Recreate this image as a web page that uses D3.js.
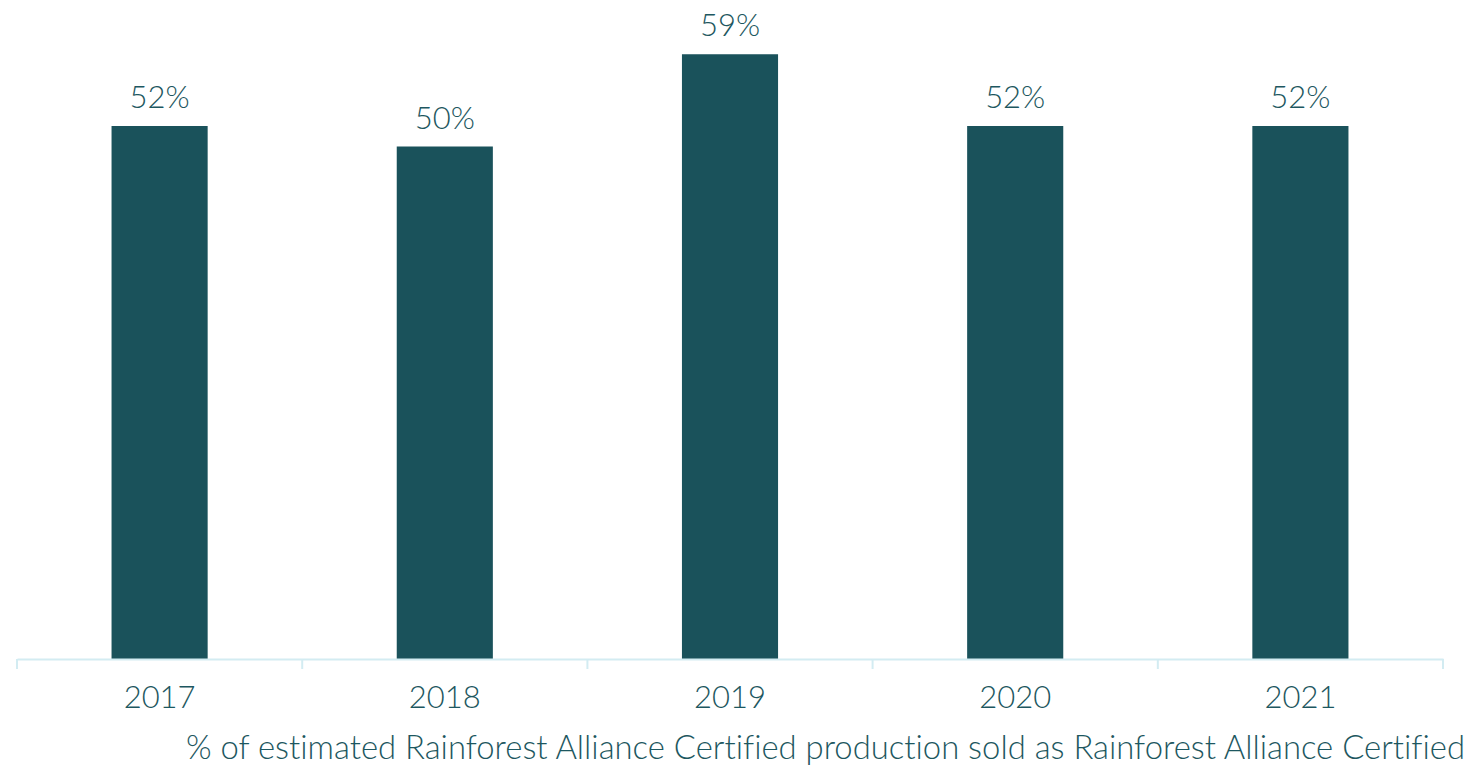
<!DOCTYPE html>
<html>
<head>
<meta charset="utf-8">
<script src="https://cdn.jsdelivr.net/npm/d3@7"></script>
<style>
  html, body { margin: 0; padding: 0; background: #ffffff; }
  svg { display: block; }
  text { font-family: Lato, "Open Sans", sans-serif; font-weight: 300; fill: #1d5760; font-variant-ligatures: none; }
</style>
</head>
<body>
<svg id="chart" width="1475" height="766"></svg>
<script>
const years = ["2017", "2018", "2019", "2020", "2021"];
const shareSold = [52, 50, 59, 52, 52];
const caption = "% of estimated Rainforest Alliance Certified production sold as Rainforest Alliance Certified";

(function () {
  const plotLeft = 17, plotRight = 1443, baseline = 659, plotTop = 44;
  const barColor = "#1a525b";
  const axisColor = "#d3ecf2";

  const svg = d3.select("#chart");

  const x = d3.scaleBand()
    .domain(years)
    .range([plotLeft, plotRight])
    .paddingInner(0.663)
    .paddingOuter(0.3315);

  const y = d3.scaleLinear()
    .domain([0, 60])
    .range([baseline, plotTop]);

  const data = years.map((yr, i) => ({ year: yr, value: shareSold[i] }));

  // bars
  svg.append("g")
    .selectAll("rect")
    .data(data)
    .join("rect")
    .attr("x", d => x(d.year))
    .attr("y", d => y(d.value))
    .attr("width", x.bandwidth())
    .attr("height", d => y(0) - y(d.value))
    .attr("fill", barColor);

  // value labels
  svg.append("g")
    .selectAll("text")
    .data(data)
    .join("text")
    .attr("x", d => x(d.year) + x.bandwidth() / 2)
    .attr("y", d => y(d.value) - 18)
    .attr("text-anchor", "middle")
    .style("font-size", "31px")
    .text(d => d.value + "%");

  // category axis
  const axis = svg.append("g")
    .attr("transform", `translate(0,${baseline})`)
    .call(d3.axisBottom(x).tickSize(0).tickPadding(27));
  axis.select(".domain")
    .attr("stroke", axisColor)
    .attr("stroke-width", 2);
  axis.selectAll(".tick text")
    .style("font-size", "31px")
    .style("font-family", "Lato, 'Open Sans', sans-serif")
    .style("font-weight", 300)
    .attr("fill", "#1d5760");

  // dividers between categories
  const step = x.step();
  const bounds = d3.range(years.length + 1).map(i => plotLeft + i * step);
  axis.selectAll(".divider")
    .data(bounds)
    .join("line")
    .attr("class", "divider")
    .attr("x1", d => d).attr("x2", d => d)
    .attr("y1", 0).attr("y2", 10)
    .attr("stroke", axisColor)
    .attr("stroke-width", 2);

  // caption, fitted to its line
  const cap = svg.append("text")
    .attr("x", 1465)
    .attr("y", 759)
    .attr("text-anchor", "end")
    .style("font-size", "30px")
    .text(caption);
  const targetWidth = 1280;
  const measured = cap.node().getComputedTextLength();
  cap.style("font-size", (30 * targetWidth / measured).toFixed(2) + "px");
})();
</script>
</body>
</html>
